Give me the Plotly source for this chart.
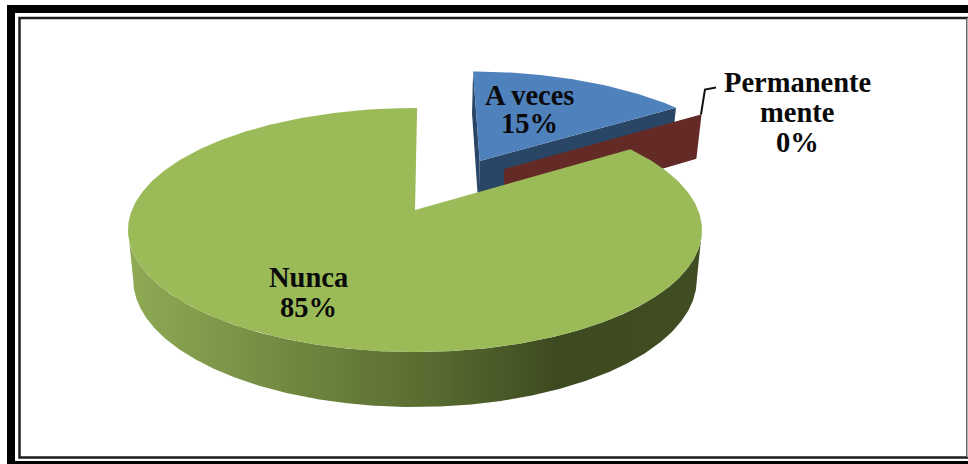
import numpy as np
import plotly.graph_objects as go

# Data
categories = ["A veces", "Permanente mente", "Nunca"]
values = [15.4, 0.05, 84.55]
label_lines = [["A veces"], ["Permanente", "mente"], ["Nunca"]]
top_colors = ["#4F81BD", "#6B2B27", "#9BBB59"]
wall_colors = ["#2A4666", "#632A26", None]
explode = [(0.245, -0.443), (0.335, -0.366), (0.0, 0.0)]
label_tops = [(529, 95, 28), (797, 82, 30), (308, 277, 30)]

# Projection of the tilted pie onto the page
W, H = 968, 464
CX, CY, RX, RY = 415.0, 230.0, 287.0, 122.0
K = -0.164
S = np.sqrt(1 - K * K)
ROT = 0.5


def project(theta_deg, radius, offset):
    t = np.radians(np.asarray(theta_deg, dtype=float) + ROT)
    u = radius * np.sin(t) + offset[0]
    v = -radius * np.cos(t) + offset[1]
    d = 1 + K * v
    return CX + RX * S * u / d, CY + RY * (v + K) / d


def extrude(x, y):
    x, y = np.asarray(x, dtype=float), np.asarray(y, dtype=float)
    depth = 55 - (352 - y) * 0.046
    return 415 + (x - 415) * 0.982, y + depth


fig = go.Figure()


def poly(x, y, color=None, gradient=None, name=None):
    kw = dict(fillgradient=gradient) if gradient else dict(fillcolor=color)
    fig.add_trace(go.Scatter(x=np.asarray(x), y=np.asarray(y), mode="lines", fill="toself",
                             line=dict(width=0), hoverinfo="skip", name=name, showlegend=False, **kw))


total = sum(values)
edges = np.concatenate([[0], np.cumsum(values)]) * 360.0 / total

for i in range(2):
    a0, a1 = edges[i], edges[i + 1]
    off = explode[i]
    th = np.linspace(a0, a1, 60)
    ax, ay = project(0, 0, off)
    ex, ey = project(a1, 1, off)
    sx, sy = project(a0, 1, off)
    # Cut faces
    for px, py in ((ex, ey), (sx, sy)):
        qx, qy = extrude([ax, px], [ay, py])
        poly([ax, px, qx[1], qx[0]], [ay, py, qy[1], qy[0]], wall_colors[i], name=categories[i])
    ox, oy = project(th, 1, off)
    poly(np.r_[ax, ox], np.r_[ay, oy], top_colors[i], name=categories[i])

# Large slice: front wall between the two horizontal extremes, then the top
a0, a1 = edges[2], edges[3]
th = np.linspace(max(a0, 75), 290, 600)
tx, ty = project(th, 1, explode[2])
keep = np.arange(np.argmax(tx), np.argmin(tx) + 1)
tx, ty = tx[keep], ty[keep]
bx, by = extrude(tx, ty)
poly(np.r_[tx, bx[::-1]], np.r_[ty, by[::-1]],
     gradient=dict(type="horizontal", start=127, stop=701,
                   colorscale=[[0, "#8FAB55"], [0.3, "#6F8640"], [0.55, "#56692F"],
                               [0.75, "#3D4A20"], [1, "#414E24"]]),
     name=categories[2])
th = np.linspace(a0, a1, 400)
ox, oy = project(th, 1, explode[2])
ax, ay = project(0, 0, explode[2])
poly(np.r_[ax, ox], np.r_[ay, oy], top_colors[2], name=categories[2])

# Leader line of the smallest slice
lx, ly = project(edges[1], 1, explode[1])
fig.add_trace(go.Scatter(x=[lx, lx + 4, lx + 15], y=[ly, ly - 25, ly - 27], mode="lines",
                         line=dict(color="#111111", width=2), hoverinfo="skip", showlegend=False))

# Labels, one annotation per line so the line pitch can stay tight
for lines, v, (x, y, pitch) in zip(label_lines, values, label_tops):
    for j, line in enumerate(lines + [f"{round(v)}%"]):
        fig.add_annotation(x=x, y=y + j * pitch, xref="x", yref="y", text=f"<b>{line}</b>",
                           showarrow=False,
                           font=dict(family="Liberation Serif", size=28.5, color="#0A0A0A"),
                           xanchor="center", yanchor="middle")

shapes = [
    dict(type="rect", x0=11, y0=9, x1=975, y1=465, line=dict(color="#000000", width=8)),
    dict(type="rect", x0=19.5, y0=18, x1=967.5, y1=457.5, line=dict(color="#1E1E1E", width=2.5)),
    dict(type="line", x0=967.5, y0=18, x1=967.5, y1=457, line=dict(color="#B0B0B0", width=1.5)),
]
fig.update_layout(
    width=W, height=H, margin=dict(l=0, r=0, t=0, b=0), autosize=False,
    paper_bgcolor="white", plot_bgcolor="white", showlegend=False,
    xaxis=dict(range=[0, W], visible=False, fixedrange=True),
    yaxis=dict(range=[H, 0], visible=False, fixedrange=True),
    shapes=[dict(s, xref="x", yref="y", layer="below") for s in shapes],
)
fig.write_html("out.html", config=dict(displayModeBar=False),
               post_script="document.body.style.margin='0';document.body.style.overflow='hidden';")
